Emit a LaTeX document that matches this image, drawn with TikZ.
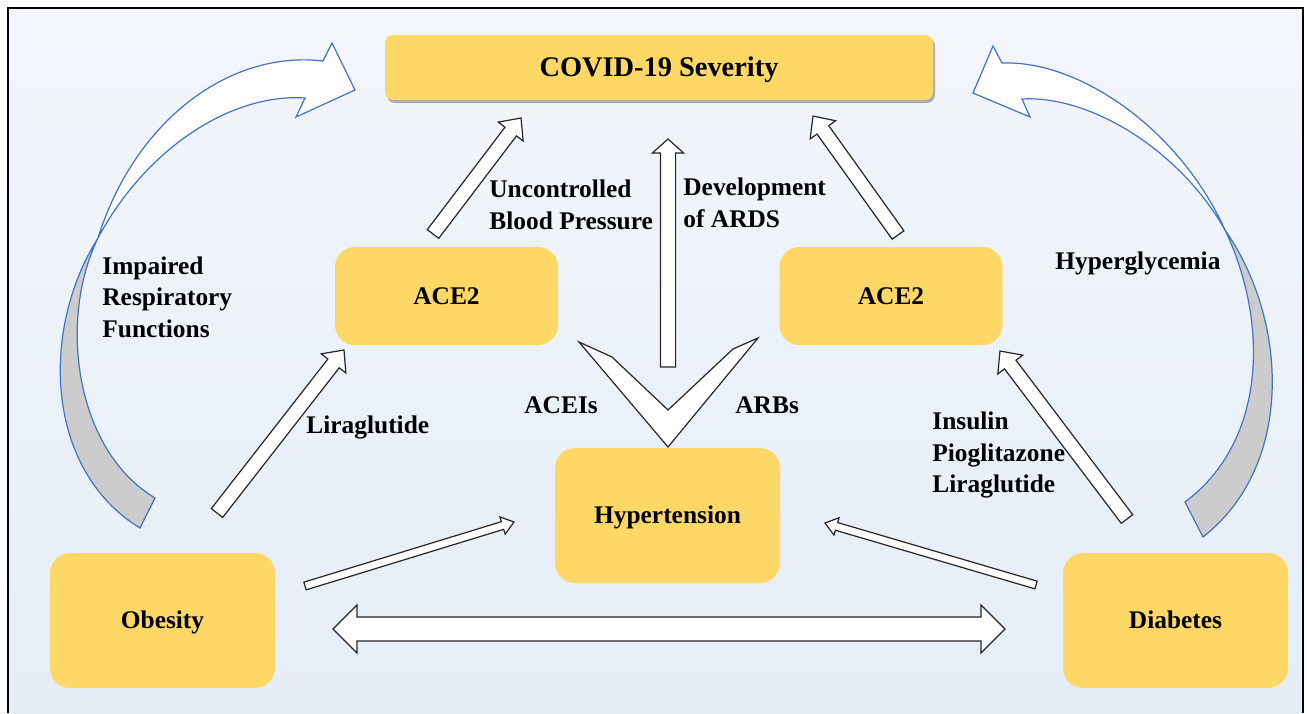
\documentclass[tikz,border=0pt]{standalone}
\usepackage{fontspec}
\setmainfont{Liberation Serif}
\usetikzlibrary{calc,shadows}

\definecolor{boxyellow}{RGB}{254,216,102}
\definecolor{bgtop}{RGB}{243,246,251}
\definecolor{bgbot}{RGB}{229,237,247}
\definecolor{curveblue}{RGB}{68,114,196}
\definecolor{curvegray}{RGB}{204,204,204}

\newcommand{\blockarrow}[5]{%
  \draw[block] let \p1=($(#2)-(#1)$), \n1={atan2(\y1,\x1)} in
    ($(#1)+(\n1+90:#3)$) -- ($(#2)!#5!(#1)+(\n1+90:#3)$) -- ($(#2)!#5!(#1)+(\n1+90:#4)$)
    -- (#2) -- ($(#2)!#5!(#1)+(\n1-90:#4)$) -- ($(#2)!#5!(#1)+(\n1-90:#3)$)
    -- ($(#1)+(\n1-90:#3)$) -- cycle;}
\newcommand{\dblockarrow}[5]{%
  \draw[block] let \p1=($(#2)-(#1)$), \n1={atan2(\y1,\x1)} in
    (#1) -- ($(#1)!#5!(#2)+(\n1+90:#4)$) -- ($(#1)!#5!(#2)+(\n1+90:#3)$)
    -- ($(#2)!#5!(#1)+(\n1+90:#3)$) -- ($(#2)!#5!(#1)+(\n1+90:#4)$)
    -- (#2) -- ($(#2)!#5!(#1)+(\n1-90:#4)$) -- ($(#2)!#5!(#1)+(\n1-90:#3)$)
    -- ($(#1)!#5!(#2)+(\n1-90:#3)$) -- ($(#1)!#5!(#2)+(\n1-90:#4)$) -- cycle;}

\begin{document}
\begin{tikzpicture}[x=0.5pt,y=-0.5pt,
    box/.style={rectangle,rounded corners=10pt,fill=boxyellow,minimum width=112.5pt,
                minimum height=67.5pt,text height=8pt,text depth=0pt,
                font=\bfseries\fontsize{12.7}{15.8}\selectfont},
    lab/.style={anchor=west,align=left,inner sep=0pt,font=\bfseries\fontsize{12.7}{15.8}\selectfont},
    block/.style={draw=black!85,fill=white,line width=0.6pt,line join=miter},
    curly/.style={draw=curveblue,line width=0.6pt}]

  \useasboundingbox (0,0) rectangle (1307,713);
  \shade[top color=bgtop,bottom color=bgbot] (8,8) rectangle (1303,713);
  \draw[line width=1.2pt] (8,713) -- (8,8) -- (1303,8) -- (1303,713);

  \draw[curly,fill=curvegray] (98,238) .. controls (40,330) and (45,470) .. (140,528)
    -- (155,498) .. controls (75,450) and (58,320) .. (98,238) -- cycle;
  \draw[curly,fill=white] (98,238) .. controls (135,120) and (230,50) .. (323,61)
    -- (332,43) -- (355,90) -- (296,117) -- (305,98)
    .. controls (230,93) and (145,150) .. (98,238) -- cycle;
  \draw[curly,fill=curvegray] (1225,230) .. controls (1288,320) and (1295,465) .. (1203,537)
    -- (1185,502) .. controls (1268,440) and (1268,320) .. (1225,230) -- cycle;
  \draw[curly,fill=white] (1225,230) .. controls (1180,130) and (1080,60) .. (1002,63)
    -- (993,46) -- (973,93) -- (1030,117) -- (1022,99)
    .. controls (1090,95) and (1180,150) .. (1225,230) -- cycle;

  \node[box,minimum width=274pt,minimum height=32.5pt,rounded corners=4pt,text height=9pt,
        font=\bfseries\fontsize{14.2}{17}\selectfont,
        drop shadow={shadow xshift=1pt,shadow yshift=-1.5pt,opacity=.5,fill=black!60}]
        (covid) at (659,67.5) {COVID-19 Severity};
  \node[box,minimum width=111.5pt,minimum height=49pt] (aceL) at (446.5,296) {ACE2};
  \node[box,minimum width=111.5pt,minimum height=49pt] (aceR) at (891,296) {ACE2};
  \node[box] (htn) at (667.5,515.5) {Hypertension};
  \node[box] (obesity) at (162.5,620.5) {Obesity};
  \node[box] (diabetes) at (1175.5,620.5) {Diabetes};

  \coordinate (aceLup) at (433,234);   \coordinate (covidL) at (521,118);
  \coordinate (aceRup) at (898,235);   \coordinate (covidR) at (813,116);
  \coordinate (ardsup) at (668,367);   \coordinate (covidM) at (668,139);
  \coordinate (obesup) at (217,513);   \coordinate (aceLin) at (344,350);
  \coordinate (diabup) at (1127,519);  \coordinate (aceRin) at (1000,351);
  \coordinate (obesrt) at (305,586);   \coordinate (htnL) at (514,522);
  \coordinate (diablt) at (1036,585);  \coordinate (htnR) at (825,523);
  \coordinate (obesbt) at (333,629);   \coordinate (diabbt) at (1005,629);

  \blockarrow{aceLup}{covidL}{3.6pt}{7.8pt}{8.5pt}
  \blockarrow{aceRup}{covidR}{3.6pt}{7.8pt}{8.5pt}
  \blockarrow{ardsup}{covidM}{3.8pt}{7.8pt}{7pt}
  \blockarrow{obesup}{aceLin}{3.6pt}{7.8pt}{8.5pt}
  \blockarrow{diabup}{aceRin}{3.6pt}{7.8pt}{8.5pt}
  \blockarrow{obesrt}{htnL}{2pt}{4.5pt}{6pt}
  \blockarrow{diablt}{htnR}{2pt}{4.5pt}{6pt}
  \dblockarrow{obesbt}{diabbt}{6pt}{12pt}{12pt}
  \draw[block] (579,342) -- (612,357) -- (668,410) -- (733,349) -- (758,338) -- (668,447) -- cycle;

  \node[lab] (impaired) at (102,297) {Impaired\\Respiratory\\Functions};
  \node[lab] (uncontrolled) at (489,205) {Uncontrolled\\Blood Pressure};
  \node[lab] (ards) at (683,203) {Development\\of ARDS};
  \node[lab] (hyperglyc) at (1055,263) {Hyperglycemia};
  \node[lab] (liraL) at (306,427) {Liraglutide};
  \node[lab] (drugsR) at (932,455) {Insulin\\Pioglitazone\\Liraglutide};
  \node[lab] (aceis) at (524,405) {ACEIs};
  \node[lab] (arbs) at (735,405) {ARBs};
\end{tikzpicture}
\end{document}
